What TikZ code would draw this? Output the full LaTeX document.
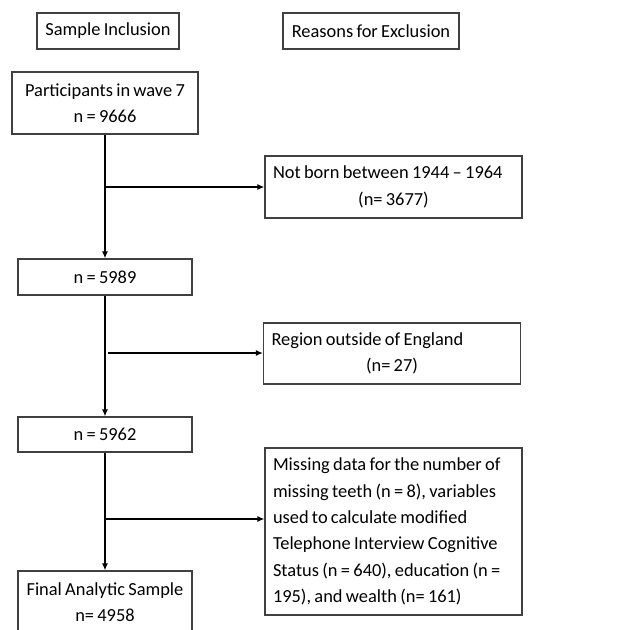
\documentclass[tikz,border=0pt]{standalone}
\usepackage{fontspec}
\setmainfont{Carlito}[WordSpace=0.8]
\usepackage{tikz}
\usetikzlibrary{arrows.meta,positioning}

\begin{document}
\begin{tikzpicture}[x=1pt,y=-1pt,
  box/.style={draw=black!75,line width=1.1pt,inner sep=0pt,font=\fontsize{18.4}{26.4}\selectfont},
  excl/.style={box,minimum width=257,text width=241,align=flush left,inner xsep=8pt},
  arr/.style={line width=1.6pt,-{Latex[length=7pt,width=6pt]}}]
\useasboundingbox (0,0) rectangle (625,630);
%%%%% headings:
\node[box,minimum width=142,minimum height=36] (incl) at (108,31) {Sample Inclusion};
\node[box,minimum width=176,minimum height=36] (reas) at (371,31) {Reasons for Exclusion};
%%%%% inclusion column:
\node[box,minimum width=186,minimum height=62,align=center] (wave) at (105,103) {Participants in wave 7\\n = 9666};
\node[box,minimum width=174,minimum height=36] (s1) at (105,277) {n = 5989};
\node[box,minimum width=174,minimum height=35] (s2) at (105,434.5) {n = 5962};
\node[box,minimum width=174,minimum height=62,align=center] (final) at (105,602) {Final Analytic Sample\\n= 4958};
%%%%% exclusion column:
\node[excl,minimum height=62] (born) at (393.5,187) {Not born between 1944 -- 1964\\\hfill(n= 3677)\hfill\null};
\node[excl,minimum width=254,minimum height=61] (region) at (392,353.5) {Region outside of England\\\hfill(n= 27)\hfill\null};
\node[excl,minimum height=167] (miss) at (393.5,531.5) {Missing data for the number of\\missing teeth (n = 8), variables\\used to calculate modified\\Telephone Interview Cognitive\\Status (n = 640), education (n =\\195), and wealth (n= 161)};
%%%%% arrows:
\draw[arr] (wave.south) -- (s1.north);
\draw[arr] (s1.south) -- (s2.north);
\draw[arr] (s2.south) -- (final.north);
\coordinate (b1) at (104,187);
\coordinate (b2) at (108,353);
\coordinate (b3) at (104,519);
\draw[arr] (b1) -- (b1 -| born.west);
\draw[arr] (b2) -- (b2 -| region.west);
\draw[arr] (b3) -- (b3 -| miss.west);
\end{tikzpicture}
\end{document}
